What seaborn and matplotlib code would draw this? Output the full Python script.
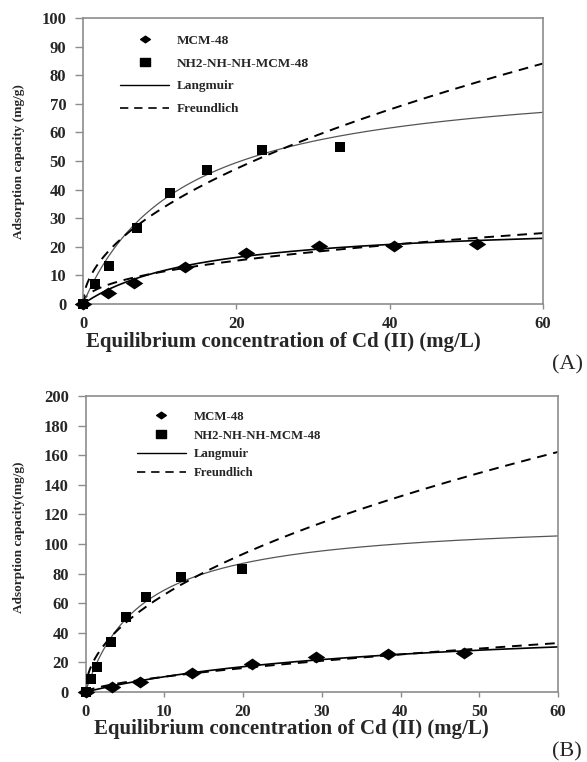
import numpy as np
import pandas as pd
import matplotlib
matplotlib.use('Agg')
import matplotlib.pyplot as plt
import seaborn as sns
from matplotlib.lines import Line2D
from matplotlib.path import Path

sns.set_theme(style='white')
plt.rcParams['font.family'] = ['Liberation Serif', 'DejaVu Serif']
plt.rcParams['font.weight'] = 'bold'

# ---------------- data ----------------
series_names = ['MCM-48', 'NH2-NH-NH-MCM-48']
fit_names = ['Langmuir', 'Freundlich']

# Panel A
a_mcm_ce = [0, 3.3, 6.6, 13.3, 21.2, 30.8, 40.5, 51.4]
a_mcm_qe = [0, 3.9, 7.4, 13.0, 17.9, 20.3, 20.4, 20.9]
a_nh2_ce = [0, 1.5, 3.4, 7.0, 11.3, 16.2, 23.4, 33.5]
a_nh2_qe = [0, 6.9, 13.4, 26.5, 38.9, 46.8, 53.8, 55.0]
# fitted isotherm parameters: Langmuir (qm, KL), Freundlich (KF, 1/n)
a_mcm_lang = (28.9, 0.0645)
a_mcm_freu = (3.96, 0.448)
a_nh2_lang = (81.5, 0.0771)
a_nh2_freu = (9.84, 0.524)

# Panel B
b_mcm_ce = [0, 3.4, 6.9, 13.5, 21.2, 29.3, 38.4, 48.0]
b_mcm_qe = [0, 3.4, 6.8, 12.8, 18.9, 23.4, 25.7, 26.6]
b_nh2_ce = [0, 0.7, 1.4, 3.3, 5.1, 7.7, 12.1, 19.9]
b_nh2_qe = [0, 8.8, 16.9, 33.8, 50.5, 64.2, 77.5, 83.0]
b_mcm_lang = (50.0, 0.026)
b_mcm_freu = (2.3, 0.651)
b_nh2_lang = (118.0, 0.14)
b_nh2_freu = (20.6, 0.504)

a_yticks = [0, 10, 20, 30, 40, 50, 60, 70, 80, 90, 100]
a_xticks = [0, 20, 40, 60]
b_yticks = [0, 20, 40, 60, 80, 100, 120, 140, 160, 180, 200]
b_xticks = [0, 10, 20, 30, 40, 50, 60]

xlabel = 'Equilibrium concentration of Cd (II) (mg/L)'
a_ylabel = 'Adsorption capacity (mg/g)'
b_ylabel = 'Adsorption capacity(mg/g)'


def langmuir(c, p):
    qm, k = p
    return qm * k * c / (1 + k * c)


def freundlich(c, p):
    kf, ninv = p
    return kf * np.power(c, ninv)


# wide diamond / square (the original figure is horizontally stretched)
wide_diamond = Path([(-1, 0), (0, 0.68), (1, 0), (0, -0.68), (-1, 0)],
                    [Path.MOVETO, Path.LINETO, Path.LINETO, Path.LINETO, Path.CLOSEPOLY])
wide_square = Path([(-0.55, -0.5), (0.55, -0.5), (0.55, 0.5), (-0.55, 0.5), (-0.55, -0.5)],
                   [Path.MOVETO, Path.LINETO, Path.LINETO, Path.LINETO, Path.CLOSEPOLY])

fig = plt.figure(figsize=(5.87, 7.62), dpi=100)
axA = fig.add_axes([83 / 587, 1 - 304 / 762, (543 - 83) / 587, (304 - 18) / 762])
axB = fig.add_axes([85.5 / 587, 1 - 692 / 762, (558 - 85.5) / 587, (692 - 396) / 762])

spine_col = '#8c8c8c'


def draw(ax, mcm_ce, mcm_qe, nh2_ce, nh2_qe, mcm_l, mcm_f, nh2_l, nh2_f,
         xlim, ylim, xticks, yticks, ylabel, leg_anchor, leg_fs, leg_sp, leg_hl):
    grid = np.linspace(0, 60, 400)
    curves = pd.DataFrame({
        'x': np.concatenate([grid] * 4),
        'y': np.concatenate([langmuir(grid, mcm_l), freundlich(grid, mcm_f),
                             langmuir(grid, nh2_l), freundlich(grid, nh2_f)]),
        'curve': np.repeat(['mcm_l', 'mcm_f', 'nh2_l', 'nh2_f'], len(grid)),
    })
    styles = {'mcm_l': dict(color='black', lw=1.2, ls='-'),
              'mcm_f': dict(color='black', lw=1.4, ls=(0, (5, 3.5))),
              'nh2_l': dict(color='#555555', lw=0.9, ls='-'),
              'nh2_f': dict(color='black', lw=1.4, ls=(0, (5, 3.5)))}
    for key, st in styles.items():
        d = curves[curves['curve'] == key]
        sns.lineplot(data=d, x='x', y='y', ax=ax, color=st['color'],
                     linewidth=st['lw'], linestyle=st['ls'], legend=False,
                     zorder=2)
    pts_m = pd.DataFrame({'ce': mcm_ce, 'qe': mcm_qe})
    pts_n = pd.DataFrame({'ce': nh2_ce, 'qe': nh2_qe})
    sns.scatterplot(data=pts_n, x='ce', y='qe', ax=ax, marker=wide_square, s=62,
                    color='black', edgecolor='black', linewidth=0, zorder=3,
                    clip_on=False)
    sns.scatterplot(data=pts_m, x='ce', y='qe', ax=ax, marker=wide_diamond, s=160,
                    color='black', edgecolor='black', linewidth=0, zorder=4,
                    clip_on=False)
    ax.set_xlim(*xlim)
    ax.set_ylim(*ylim)
    ax.set_xticks(xticks)
    ax.set_yticks(yticks)
    ax.set_xticklabels([str(t) for t in xticks])
    ax.set_yticklabels([str(t) for t in yticks])
    ax.tick_params(axis='y', direction='out', length=5.5, width=1,
                   color=spine_col, pad=6.5, left=True, labelsize=12)
    ax.tick_params(axis='x', direction='out', length=3.5, width=1,
                   color=spine_col, pad=5.5, bottom=True, labelsize=12)
    for lab in ax.get_xticklabels() + ax.get_yticklabels():
        lab.set_fontweight('bold')
    for sp in ax.spines.values():
        sp.set_color(spine_col)
        sp.set_linewidth(1.2)
    ax.set_xlabel(xlabel, fontsize=15, fontweight='bold')
    ax.set_ylabel(ylabel, fontsize=9.5, fontweight='bold')
    ax.grid(False)
    handles = [
        Line2D([], [], marker=wide_diamond, ls='none', color='black', ms=7),
        Line2D([], [], marker=wide_square, ls='none', color='black', ms=7),
        Line2D([], [], color='black', lw=1.0, ls='-'),
        Line2D([], [], color='black', lw=1.2, ls=(0, (5, 3.5))),
    ]
    ax.legend(handles, series_names + fit_names, loc='upper left',
              bbox_to_anchor=leg_anchor, frameon=False, borderpad=0,
              borderaxespad=0, handlelength=leg_hl, handletextpad=0.6,
              labelspacing=leg_sp,
              prop={'family': 'Liberation Serif', 'weight': 'bold', 'size': leg_fs})


draw(axA, a_mcm_ce, a_mcm_qe, a_nh2_ce, a_nh2_qe, a_mcm_lang, a_mcm_freu,
     a_nh2_lang, a_nh2_freu, (0, 60), (0, 100), a_xticks, a_yticks, a_ylabel,
     leg_anchor=(0.08, 0.942), leg_fs=9.5, leg_sp=0.8, leg_hl=3.75)
draw(axB, b_mcm_ce, b_mcm_qe, b_nh2_ce, b_nh2_qe, b_mcm_lang, b_mcm_freu,
     b_nh2_lang, b_nh2_freu, (0, 60), (0, 200), b_xticks, b_yticks, b_ylabel,
     leg_anchor=(0.108, 0.95), leg_fs=9.2, leg_sp=0.53, leg_hl=3.9)

# axis-label positions in pixels
for ax, ycen in ((axA, 342), (axB, 729)):
    pos = ax.get_position()
    ax.xaxis.set_label_coords(0.435, (1 - ycen / 762 - pos.y0) / pos.height)
    ax.xaxis.label.set_va('center')
for ax, ycen in ((axA, 162), (axB, 537)):
    pos = ax.get_position()
    ax.yaxis.set_label_coords((19 / 587 - pos.x0) / pos.width,
                              (1 - ycen / 762 - pos.y0) / pos.height)
    ax.yaxis.label.set_va('center')

fig.text(552 / 587, 1 - 365 / 762, '(A)', fontsize=16, fontweight='normal',
         ha='left', va='center')
fig.text(552 / 587, 1 - 752 / 762, '(B)', fontsize=16, fontweight='normal',
         ha='left', va='center')

fig.savefig('out.png', dpi=100)
